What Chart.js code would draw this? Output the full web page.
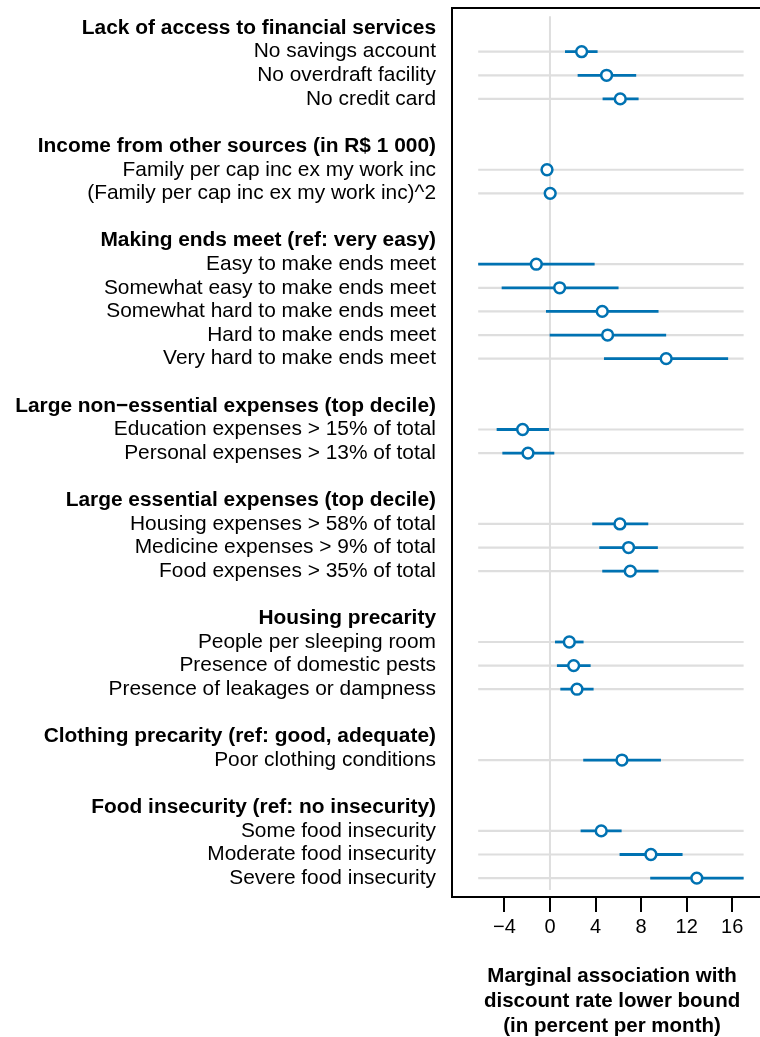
<!DOCTYPE html>
<html>
<head>
<meta charset="utf-8">
<script src="https://cdn.jsdelivr.net/npm/chart.js@4.4.1/dist/chart.umd.min.js"></script>
<style>
    html, body { margin: 0; padding: 0; background: #fff; }
    #wrap { width: 760px; height: 1037px; overflow: hidden; }
</style>
</head>
<body>
<div id="wrap"><canvas id="chartCanvas" width="780" height="1037"></canvas></div>
<script>
const groupNames = [
    'Lack of access to financial services',
    'Income from other sources (in R$ 1 000)',
    'Making ends meet (ref: very easy)',
    'Large non\u2212essential expenses (top decile)',
    'Large essential expenses (top decile)',
    'Housing precarity',
    'Clothing precarity (ref: good, adequate)',
    'Food insecurity (ref: no insecurity)'
];
const groupSizes = [3, 2, 5, 2, 3, 3, 1, 3];
const categories = [
    'No savings account', 'No overdraft facility', 'No credit card',
    'Family per cap inc ex my work inc', '(Family per cap inc ex my work inc)^2',
    'Easy to make ends meet', 'Somewhat easy to make ends meet', 'Somewhat hard to make ends meet',
    'Hard to make ends meet', 'Very hard to make ends meet',
    'Education expenses > 15% of total', 'Personal expenses > 13% of total',
    'Housing expenses > 58% of total', 'Medicine expenses > 9% of total', 'Food expenses > 35% of total',
    'People per sleeping room', 'Presence of domestic pests', 'Presence of leakages or dampness',
    'Poor clothing conditions',
    'Some food insecurity', 'Moderate food insecurity', 'Severe food insecurity'
];
const estimate = [2.78, 4.97, 6.17, -0.26, 0.02, -1.2, 0.85, 4.59, 5.06, 10.2, -2.4, -1.93,
    6.14, 6.9, 7.05, 1.70, 2.08, 2.37, 6.32, 4.5, 8.86, 12.89];
const lower = [1.32, 2.43, 4.62, -0.32, -0.02, -6.3, -4.24, -0.35, -0.03, 4.74, -4.68, -4.18,
    3.71, 4.33, 4.59, 0.44, 0.61, 0.91, 2.92, 2.69, 6.11, 8.8];
const upper = [4.18, 7.57, 7.78, -0.2, 0.06, 3.92, 6.02, 9.53, 10.2, 15.64, -0.09, 0.38,
    8.63, 9.47, 9.53, 2.95, 3.57, 3.83, 9.74, 6.29, 11.64, 17.0];
const xTicks = [-4, 0, 4, 8, 12, 16];
const guideFrom = -6.3, guideTo = 17.0;
const axisTitle = ['Marginal association with', 'discount rate lower bound', '(in percent per month)'];

// rows: header, its items, then a blank line before the next group
const rowLabels = [];
const headerRows = new Set();
const itemRows = [];
let k = 0;
groupNames.forEach((g, gi) => {
    if (gi > 0) rowLabels.push('');
    headerRows.add(rowLabels.length);
    rowLabels.push(g);
    for (let j = 0; j < groupSizes[gi]; j++) {
        itemRows.push(rowLabels.length);
        rowLabels.push(categories[k++]);
    }
});

const blue = '#0072B2';
const grey = '#DEDEDE';

Chart.defaults.font.family = "'Liberation Sans', Arial, Helvetica, sans-serif";
Chart.defaults.color = '#000';

const boxPlugin = {
    id: 'box',
    afterDatasetsDraw(chart) {
        const {ctx, chartArea: a} = chart;
        ctx.save();
        ctx.strokeStyle = '#000';
        ctx.lineWidth = 2;
        ctx.strokeRect(a.left, a.top, a.right - a.left, a.bottom - a.top);
        ctx.restore();
    }
};

const ctx = document.getElementById('chartCanvas').getContext('2d');
new Chart(ctx, {
    type: 'scatter',
    data: {
        datasets: [
            {
                type: 'scatter',
                data: itemRows.map((r, i) => ({x: estimate[i], y: r})),
                pointRadius: 5.4,
                pointBackgroundColor: '#fff',
                pointBorderColor: blue,
                pointBorderWidth: 2.5,
                order: 0
            },
            {
                type: 'bar',
                indexAxis: 'y',
                data: itemRows.map((r, i) => ({y: r, x: [lower[i], upper[i]]})),
                backgroundColor: blue,
                barThickness: 2.8,
                grouped: false,
                inflateAmount: 0,
                borderWidth: 0,
                order: 1
            },
            {
                type: 'line',
                data: [{x: 0, y: -0.5}, {x: 0, y: rowLabels.length - 0.5}],
                borderColor: grey,
                borderWidth: 2,
                pointRadius: 0,
                order: 2
            },
            {
                type: 'bar',
                indexAxis: 'y',
                data: itemRows.map(r => ({y: r, x: [guideFrom, guideTo]})),
                backgroundColor: grey,
                barThickness: 2.2,
                grouped: false,
                inflateAmount: 0,
                borderWidth: 0,
                order: 3
            }
        ]
    },
    options: {
        responsive: false,
        animation: false,
        layout: { padding: { top: 8, right: 2, left: 0, bottom: 0 } },
        plugins: {
            legend: { display: false },
            tooltip: { enabled: false }
        },
        scales: {
            x: {
                type: 'linear',
                min: -8.6,
                max: 19.5,
                offset: false,
                afterBuildTicks: s => { s.ticks = xTicks.map(v => ({value: v})); },
                afterFit: s => { s.height = 140; s.paddingLeft = 0; s.paddingRight = 0; },
                grid: { drawOnChartArea: false, tickLength: 15, tickColor: '#000', tickWidth: 2, lineWidth: 2 },
                border: { display: false },
                ticks: {
                    padding: 3,
                    font: { size: 20 },
                    callback: v => v < 0 ? '\u2212' + Math.abs(v) : String(v)
                },
                title: {
                    display: true,
                    text: axisTitle,
                    font: { size: 20.5, weight: 'bold', lineHeight: 1.21 },
                    padding: { top: 0, bottom: -1.5 }
                }
            },
            y: {
                type: 'linear',
                reverse: true,
                offset: false,
                min: -0.85,
                max: rowLabels.length - 0.2,
                afterBuildTicks: s => { s.ticks = rowLabels.map((_, i) => ({value: i})); },
                afterFit: s => { s.width = 452; s.paddingTop = 0; s.paddingBottom = 0; },
                grid: { display: false, drawTicks: false },
                border: { display: false },
                ticks: {
                    autoSkip: false,
                    padding: 16,
                    callback: v => rowLabels[v],
                    font: c => ({
                        size: 20.9,
                        lineHeight: 1.1,
                        weight: (c.tick && headerRows.has(c.tick.value)) ? 'bold' : 'normal'
                    })
                }
            }
        }
    },
    plugins: [boxPlugin]
});
</script>
</body>
</html>
